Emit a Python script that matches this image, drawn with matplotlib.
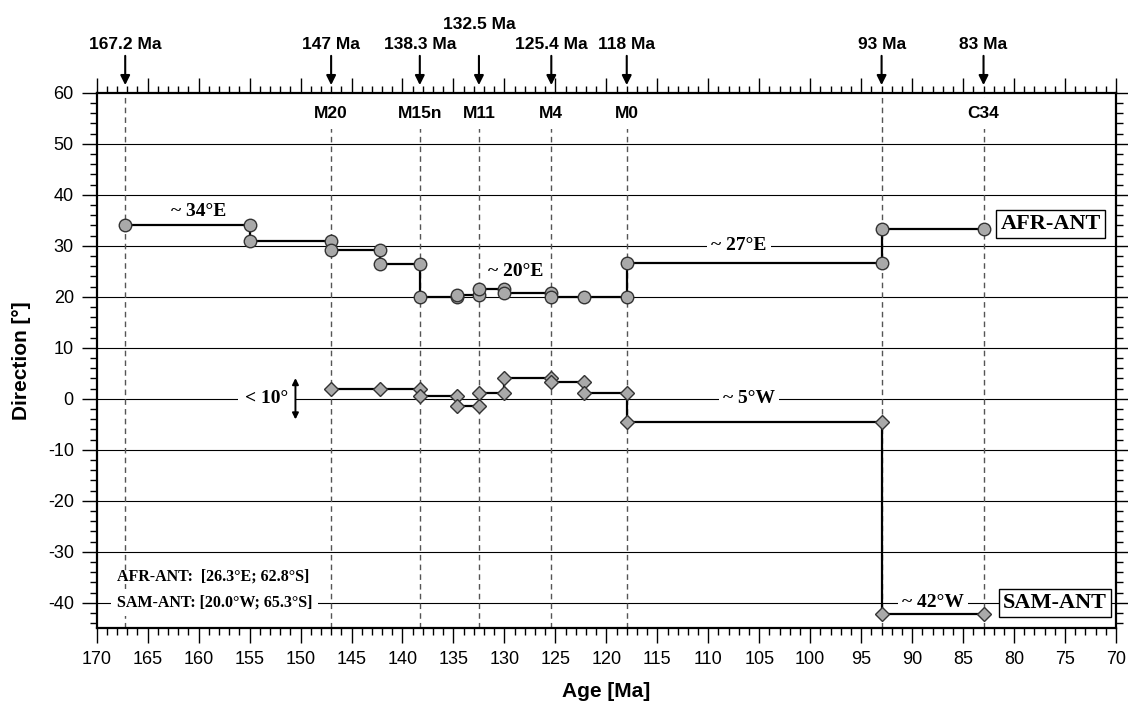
import numpy as np
import matplotlib
matplotlib.use("Agg")
import matplotlib.pyplot as plt
from matplotlib.ticker import MultipleLocator
import matplotlib.transforms as mtransforms

plt.rcParams['font.family'] = 'Liberation Sans'
plt.rcParams['axes.unicode_minus'] = False

SERIF = 'Liberation Serif'

# AFR-ANT flowline directions (step path), age in Ma / direction in deg
afr_age = [167.2, 155, 155, 147, 147, 142.2, 142.2, 138.3, 138.3, 134.7, 134.7,
           132.5, 132.5, 130.0, 130.0, 125.4, 125.4, 122.2, 118, 118, 93, 93, 83]
afr_dir = [34.0, 34.0, 31.0, 31.0, 29.2, 29.2, 26.5, 26.5, 19.9, 19.9, 20.3,
           20.3, 21.5, 21.5, 20.7, 20.7, 19.9, 19.9, 19.9, 26.6, 26.6, 33.2, 33.2]

# SAM-ANT
sam_age = [147, 142.2, 138.3, 138.3, 134.7, 134.7, 132.5, 132.5, 130.0, 130.0,
           125.4, 125.4, 122.2, 122.2, 118, 118, 93, 93, 83]
sam_dir = [2.0, 2.0, 2.0, 0.6, 0.6, -1.4, -1.4, 1.2, 1.2, 4.1,
           4.1, 3.3, 3.3, 1.2, 1.2, -4.5, -4.5, -42.2, -42.2]

top_ages = [167.2, 147, 138.3, 132.5, 125.4, 118, 93, 83]
top_labels = ["167.2 Ma", "147 Ma", "138.3 Ma", "132.5 Ma", "125.4 Ma", "118 Ma", "93 Ma", "83 Ma"]

chron_ages = [147, 138.3, 132.5, 125.4, 118, 83]
chron_names = ["M20", "M15n", "M11", "M4", "M0", "C34"]

fig = plt.figure(figsize=(11.28, 7.05), dpi=100)
ax = fig.add_axes([0.0857, 0.1088, 0.9037, 0.7597])

ax.set_xlim(170, 70)
ax.set_ylim(-45, 60)

# grid lines every 10 deg
for g in range(-40, 60, 10):
    ax.axhline(g, color='k', lw=0.8, zorder=1)

# dashed event lines
for a in top_ages:
    ax.axvline(a, color='#555555', lw=1.0, ls=(0, (4, 3)), zorder=1)

mk = dict(markerfacecolor='#a9a9a9', markeredgecolor='#333333', markeredgewidth=1.0)
ax.plot(afr_age, afr_dir, color='k', lw=1.6, marker='o', markersize=9, zorder=4, **mk)
ax.plot(sam_age, sam_dir, color='k', lw=1.6, marker='D', markersize=7, zorder=4, **mk)

ax.xaxis.set_major_locator(MultipleLocator(5))
ax.xaxis.set_minor_locator(MultipleLocator(1))
ax.yaxis.set_major_locator(MultipleLocator(10))
ax.yaxis.set_minor_locator(MultipleLocator(2))
ax.tick_params(which='both', direction='out', top=True, right=True,
               labeltop=False, labelright=False, width=1.0, labelsize=13)
ax.tick_params(which='major', length=10.5, pad=6)
ax.tick_params(which='minor', length=5)
for s in ax.spines.values():
    s.set_linewidth(1.6)

ax.set_xlabel("Age [Ma]", fontsize=15, fontweight='bold', labelpad=10)
ax.set_ylabel("Direction [°]", fontsize=15, fontweight='bold', labelpad=12)

# top arrows and labels
trans = mtransforms.blended_transform_factory(ax.transData, ax.transAxes)
for a, lab in zip(top_ages, top_labels):
    ax.annotate('', xy=(a, 1.009), xytext=(a, 1.074), xycoords=trans, textcoords=trans,
                arrowprops=dict(arrowstyle='-|>', color='k', lw=1.5, mutation_scale=14),
                annotation_clip=False)
    ty = 1.128 if lab == "132.5 Ma" else 1.09
    ax.text(a, ty, lab, transform=trans, ha='center', va='center',
            fontsize=12.5, fontweight='bold')

# chron labels
for a, n in zip(chron_ages, chron_names):
    ax.text(a, 55.9, n, ha='center', va='center', fontsize=12.5, fontweight='bold', zorder=3,
            bbox=dict(facecolor='white', edgecolor='none', pad=6))

wbox = dict(facecolor='white', edgecolor='none', pad=3)
tfont = dict(family=SERIF, fontweight='bold', fontsize=14, ha='center', va='center', zorder=3)
ax.text(160.0, 36.7, "~ 34°E", **tfont)
ax.text(128.9, 24.9, "~ 20°E", **tfont)
ax.text(107.0, 30.0, "~ 27°E", bbox=wbox, **tfont)
ax.text(106.0, 0.0, "~ 5°W", bbox=wbox, **tfont)
ax.text(88.0, -40.0, "~ 42°W", bbox=wbox, **tfont)
ax.text(153.3, 0.0, "< 10°", bbox=dict(facecolor='white', edgecolor='none', pad=5), **tfont)

ax.annotate('', xy=(150.5, -4.6), xytext=(150.5, 4.6),
            arrowprops=dict(arrowstyle='<|-|>', color='k', lw=1.4, mutation_scale=9), zorder=3)

box = dict(facecolor='white', edgecolor='k', lw=1.0, pad=3)
ax.text(76.4, 34.3, "AFR-ANT", family=SERIF, fontweight='bold', fontsize=16,
        ha='center', va='center', bbox=box, zorder=5)
ax.text(76.0, -40.0, "SAM-ANT", family=SERIF, fontweight='bold', fontsize=16,
        ha='center', va='center', bbox=box, zorder=5)

ax.text(168.0, -34.9, "AFR-ANT:  [26.3°E; 62.8°S]", family=SERIF, fontweight='bold',
        fontsize=11.5, ha='left', va='center', zorder=3)
ax.text(168.0, -40.0, "SAM-ANT: [20.0°W; 65.3°S]", family=SERIF, fontweight='bold',
        fontsize=11.5, ha='left', va='center', zorder=3, bbox=dict(facecolor='white', edgecolor='none', pad=4))

fig.savefig("out.png", dpi=100)
